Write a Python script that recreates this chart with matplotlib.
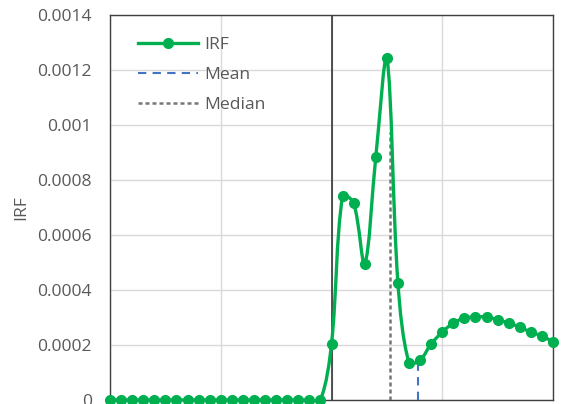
import numpy as np
import matplotlib
matplotlib.use("Agg")
import matplotlib.pyplot as plt
from matplotlib.path import Path
from matplotlib.patches import PathPatch
from matplotlib.lines import Line2D

# ---------------------------------------------------------------------------
# Data
# ---------------------------------------------------------------------------
lags = np.arange(-20, 21)
irf = [0.0] * 20 + [
    0.000204, 0.000742, 0.000716, 0.000495, 0.000884, 0.001244, 0.000425,
    0.000135, 0.000145, 0.000204, 0.000247, 0.000280, 0.000298, 0.000302,
    0.000302, 0.000291, 0.000280, 0.000265, 0.000247, 0.000233, 0.000211,
]
mean_x, mean_top = 7.8, 0.000140
median_x, median_top = 5.3, 0.000975

y_ticks = [0, 0.0002, 0.0004, 0.0006, 0.0008, 0.001, 0.0012, 0.0014]
y_labels = ["0", "0.0002", "0.0004", "0.0006", "0.0008", "0.001", "0.0012", "0.0014"]

GREEN = "#00B050"
BLUE = "#4472C4"
GREY = "#767676"
TXT = "#595959"

plt.rcParams["font.family"] = ["Open Sans", "DejaVu Sans"]

AX_W, AX_H = 443, 385  # axes size in pixels


def smooth_path(x, y, xspan, yspan):
    # Excel-like smoothed line: cubic Bezier, tangent arms scaled by
    # neighbouring segment lengths (measured in pixel space)
    pts = np.column_stack([x, y]).astype(float)
    scale = np.array([AX_W / xspan, AX_H / yspan])
    ext = np.vstack([pts[0], pts, pts[-1]])

    def seglen(a, b):
        return np.hypot(*((b - a) * scale))

    verts = [pts[0]]
    codes = [Path.MOVETO]
    for i in range(len(pts) - 1):
        p0, p1, p2, p3 = ext[i], ext[i + 1], ext[i + 2], ext[i + 3]
        l01, l12, l23 = seglen(p0, p1), seglen(p1, p2), seglen(p2, p3)
        w1 = l12 / (l01 + l12) if l01 + l12 > 0 else 0.5
        w2 = l12 / (l12 + l23) if l12 + l23 > 0 else 0.5
        c1 = p1 + (p2 - p0) * w1 / 3
        c2 = p2 - (p3 - p1) * w2 / 3
        verts += [c1, c2, p2]
        codes += [Path.CURVE4] * 3
    return Path(verts, codes)


fig = plt.figure(figsize=(5.61, 4.04), dpi=100)
ax = fig.add_axes([110 / 561, 1 - 400 / 404, AX_W / 561, AX_H / 404])

ax.set_xlim(-20, 20)
ax.set_ylim(0, 0.0014)

ax.set_xticks([-20, -10, 0, 10, 20])
ax.set_yticks(y_ticks)
ax.set_yticklabels(y_labels)
ax.tick_params(axis="x", length=0, labelbottom=False)
ax.tick_params(axis="y", length=0, pad=13, labelsize=12.6, labelcolor=TXT)
ax.grid(True, color="#D9D9D9", linewidth=1.0)
ax.set_axisbelow(True)
for s in ax.spines.values():
    s.set_color("#404040")
    s.set_linewidth(1.0)

ax.axvline(0, color="#262626", linewidth=1.1, zorder=2)

# mean / median markers
ax.plot([mean_x, mean_x], [0, mean_top], color=BLUE, linewidth=1.5,
        linestyle=(0, (4, 3)), zorder=3)
ax.plot([median_x, median_x], [0, median_top], color=GREY, linewidth=1.8,
        linestyle=(0, (1.6, 1.2)), zorder=3)

# IRF smoothed line + markers
ax.add_patch(PathPatch(smooth_path(lags, irf, 40, 0.0014), facecolor="none",
                       edgecolor=GREEN, linewidth=2.4, zorder=4,
                       clip_on=False, capstyle="round", joinstyle="round"))
ax.plot(lags, irf, "o", color=GREEN, markersize=7, zorder=5, clip_on=False)

ax.set_ylabel("IRF", fontsize=12.6, color=TXT, labelpad=6)

handles = [
    Line2D([], [], color=GREEN, linewidth=2.4, marker="o", markersize=7),
    Line2D([], [], color=BLUE, linewidth=1.5, linestyle=(0, (4, 3))),
    Line2D([], [], color=GREY, linewidth=1.8, linestyle=(0, (1.6, 1.2))),
]
leg = ax.legend(handles, ["IRF", "Mean", "Median"], loc="upper left",
                bbox_to_anchor=(0.04, 0.97), frameon=False, fontsize=12.6,
                handlelength=3.4, handletextpad=0.35, labelspacing=0.78,
                numpoints=1, borderaxespad=0.2)
for t in leg.get_texts():
    t.set_color(TXT)

fig.savefig("out.png", dpi=100)
